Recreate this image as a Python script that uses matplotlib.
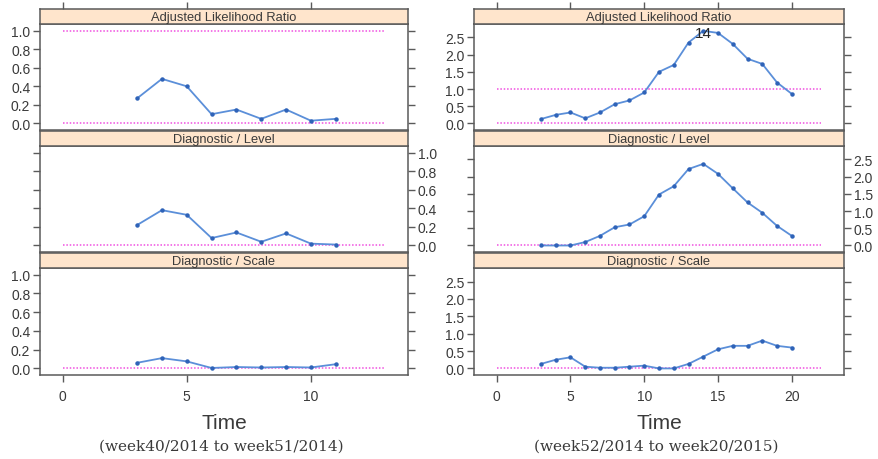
import matplotlib.pyplot as plt
import numpy as np

# Data
strip_titles = ['Adjusted Likelihood Ratio', 'Diagnostic / Level', 'Diagnostic / Scale']

left_time = [3, 4, 5, 6, 7, 8, 9, 10, 11]
left_alr = [0.27, 0.48, 0.40, 0.10, 0.15, 0.05, 0.15, 0.03, 0.05]
left_level = [0.22, 0.38, 0.33, 0.08, 0.14, 0.04, 0.13, 0.02, 0.01]
left_scale = [0.06, 0.11, 0.075, 0.005, 0.015, 0.01, 0.015, 0.01, 0.045]

right_time = list(range(3, 21))
right_alr = [0.13, 0.25, 0.32, 0.15, 0.32, 0.56, 0.67, 0.90, 1.50, 1.70, 2.35, 2.69,
             2.63, 2.31, 1.88, 1.73, 1.19, 0.86]
right_level = [0.0, 0.0, 0.0, 0.1, 0.28, 0.53, 0.61, 0.85, 1.48, 1.72, 2.22, 2.37,
               2.08, 1.66, 1.25, 0.95, 0.57, 0.28]
right_scale = [0.13, 0.25, 0.32, 0.05, 0.02, 0.02, 0.05, 0.08, 0.0, 0.0, 0.13, 0.34,
               0.55, 0.65, 0.65, 0.80, 0.65, 0.60]

left_xticks = [0, 5, 10]
right_xticks = [0, 5, 10, 15, 20]
left_yticks = [0.0, 0.2, 0.4, 0.6, 0.8, 1.0]
right_yticks = [0.0, 0.5, 1.0, 1.5, 2.0, 2.5]
captions = ['(week40/2014 to week51/2014)', '(week52/2014 to week20/2015)']

W, H = 879, 460
fig = plt.figure(figsize=(W / 100, H / 100), dpi=100)

line_col = '#5b8fd9'
dot_col = '#2f63b8'
ref_col = '#f050e0'
frame_col = '#5a5a5a'
text_col = '#3a3a3a'
strip_bg = '#ffe5cc'

strip_tops = [10, 132, 254]
panel_tops = [25, 147, 269]
panel_bots = [131, 253, 376]


def px_axes(x0, x1, y0, y1):
    return fig.add_axes([x0 / W, 1 - y1 / H, (x1 - x0) / W, (y1 - y0) / H])


def draw_column(x0, x1, time, series, xmax, ymax, xticks, yticks, caption, label14=False):
    xpad = 0.07 * xmax
    ypad = 0.07 * ymax
    xlim = (-xpad, xmax + xpad)
    ylim = (-ypad, ymax + ypad)
    for i in range(3):
        ax = px_axes(x0, x1, panel_tops[i], panel_bots[i])
        st = px_axes(x0, x1, strip_tops[i], panel_tops[i])
        # strip
        st.set_facecolor(strip_bg)
        st.set_xlim(xlim)
        st.set_yticks([])
        st.text(0.5, 0.45, strip_titles[i], transform=st.transAxes, ha='center',
                va='center', fontsize=9.3, color=text_col, family='Liberation Sans')
        for sp in st.spines.values():
            sp.set_color(frame_col)
            sp.set_linewidth(1.1)
        if i == 0:
            st.set_xticks(xticks)
            st.tick_params(axis='x', top=True, bottom=False, labeltop=False,
                           labelbottom=False, direction='out', length=5,
                           color=frame_col, width=1)
        else:
            st.set_xticks([])

        # panel
        ax.plot(time, series[i], color=line_col, lw=1.3, zorder=3)
        ax.plot(time, series[i], 'o', color=dot_col, ms=2.2, zorder=4)
        ax.plot([0, xmax], [0, 0], color=ref_col, lw=1.1, ls=(0, (1, 1.2)), zorder=2)
        if i == 0:
            ax.plot([0, xmax], [1, 1], color=ref_col, lw=1.1, ls=(0, (1, 1.2)), zorder=2)
        ax.set_xlim(xlim)
        ax.set_ylim(ylim)
        ax.set_yticks(yticks)
        ax.set_yticklabels([f'{v:.1f}' for v in yticks])
        ax.tick_params(axis='y', left=True, right=True, direction='out', length=5,
                       color=frame_col, width=1, labelsize=10, labelcolor=text_col,
                       labelleft=(i != 1), labelright=(i == 1), pad=2)
        if i == 2:
            ax.set_xticks(xticks)
            ax.tick_params(axis='x', bottom=True, top=False, direction='out', length=5,
                           color=frame_col, width=1, labelsize=10, labelcolor=text_col,
                           pad=5)
            ax.set_xlabel('Time', fontsize=15, color=text_col, labelpad=7,
                          family='Liberation Sans')
        else:
            ax.set_xticks([])
        for lab in ax.get_xticklabels() + ax.get_yticklabels():
            lab.set_family('Liberation Sans')
        for sp in ax.spines.values():
            sp.set_color(frame_col)
            sp.set_linewidth(1.1)
        if label14 and i == 0:
            ax.text(14, 2.64, '14', ha='center', va='center', fontsize=11,
                    color='#222222', family='Liberation Sans', zorder=5)
    cx = ((x0 + x1) / 2 - 3) / W
    fig.text(cx, 1 - 447 / H, caption, ha='center', va='center', fontsize=11,
             color=text_col, family='DejaVu Serif')


draw_column(40, 408, left_time, [left_alr, left_level, left_scale], 13, 1.0,
            left_xticks, left_yticks, captions[0])
draw_column(474, 844, right_time, [right_alr, right_level, right_scale], 22, 2.7,
            right_xticks, right_yticks, captions[1], label14=True)

fig.savefig('out.png', dpi=100)
